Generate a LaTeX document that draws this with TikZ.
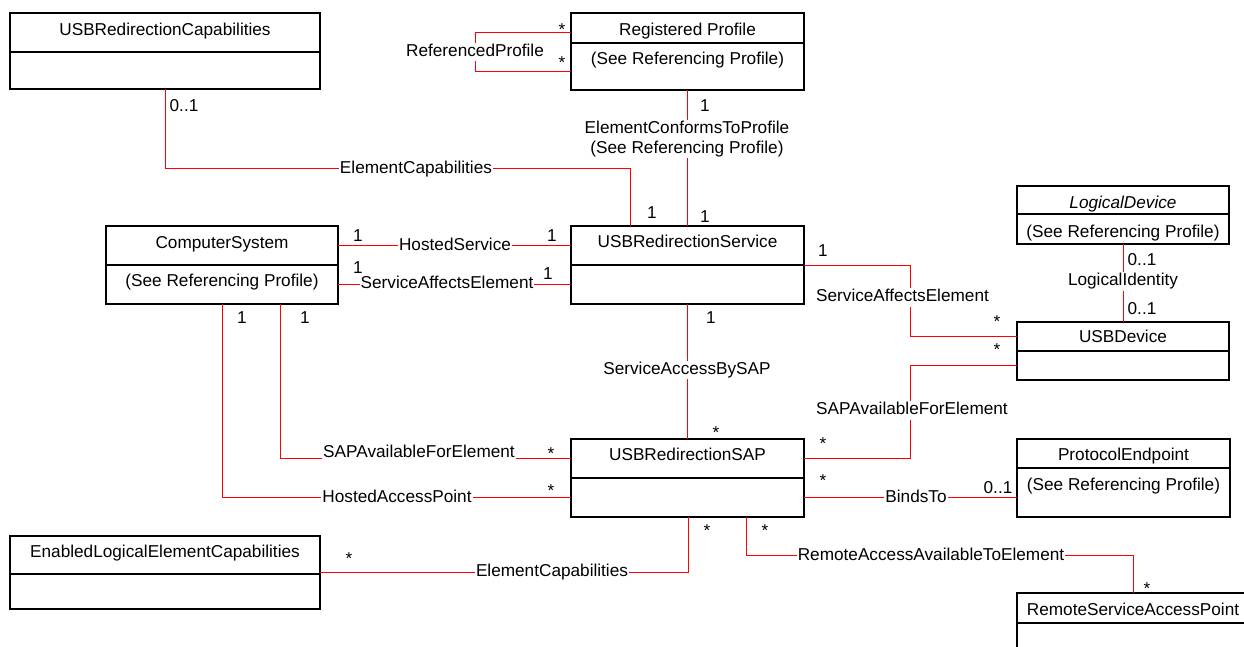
\documentclass[tikz,border=0pt]{standalone}
\usepackage{fontspec}
\setmainfont{Liberation Sans}
\usetikzlibrary{positioning}

\begin{document}
\begin{tikzpicture}[x=1pt,y=-1pt,font=\fontsize{17.2}{20.5}\selectfont,
  head/.style n args={3}{draw,line width=1.2pt,minimum width=#1,text height=#2,text depth=#3,inner sep=0pt,outer sep=0pt,anchor=north west},
  body/.style n args={3}{draw,line width=1.2pt,minimum width=#1,text height=#2,text depth=#3,inner sep=0pt,outer sep=0pt},
  assoc/.style={red,line width=0.9pt},
  lbl/.style={fill=white,inner sep=1pt,text height=12.5pt,text depth=3.6pt},
  mult/.style={inner sep=0pt,anchor=base}]
\useasboundingbox (0,0) rectangle (1244,646);
\clip (0,0) rectangle (1244,646);

\node[head={310pt}{22.5pt}{16.5pt}] (urc) at (10,13) {USBRedirectionCapabilities};
\node[body={310pt}{37pt}{0pt},below=0pt of urc] (urcB) {};
\node[head={233pt}{22pt}{8pt}] (rp) at (571,13) {Registered Profile};
\node[body={233pt}{21.5pt}{25.5pt},below=0pt of rp] (rpB) {(See Referencing Profile)};
\node[head={212pt}{22.3pt}{5.7pt}] (ld) at (1017,186) {\itshape LogicalDevice};
\node[body={212pt}{23pt}{7pt},below=0pt of ld] (ldB) {(See Referencing Profile)};
\node[head={212pt}{20.3pt}{8.7pt}] (usbd) at (1017,322) {USBDevice};
\node[body={212pt}{29pt}{0pt},below=0pt of usbd] (usbdB) {};
\node[head={232pt}{22.5pt}{16.5pt}] (cs) at (106,226) {ComputerSystem};
\node[body={232pt}{21pt}{18pt},below=0pt of cs] (csB) {(See Referencing Profile)};
\node[head={233pt}{21.3pt}{17.7pt}] (svc) at (571,226) {USBRedirectionService};
\node[body={233pt}{39pt}{0pt},below=0pt of svc] (svcB) {};
\node[head={233pt}{21.6pt}{17.4pt}] (sap) at (571,439) {USBRedirectionSAP};
\node[body={233pt}{39pt}{0pt},below=0pt of sap] (sapB) {};
\node[head={213pt}{21.6pt}{7.4pt}] (pe) at (1017,439) {ProtocolEndpoint};
\node[body={213pt}{22pt}{27pt},below=0pt of pe] (peB) {(See Referencing Profile)};
\node[head={232pt}{22.6pt}{7.4pt}] (rsap) at (1017,593) {RemoteServiceAccessPoint};
\node[body={232pt}{60pt}{0pt},below=0pt of rsap] (rsapB) {};
\node[head={310pt}{21.3pt}{16.7pt}] (elec) at (10,536) {EnabledLogicalElementCapabilities};
\node[body={310pt}{35pt}{0pt},below=0pt of elec] (elecB) {};

\draw[assoc] (urcB.south -| 165,0) -- ++(0,79) -| (svc.north -| 630,0);
\draw[assoc] (rp.west |- 0,32) -- ++(-96,0) |- (rpB.west |- 0,71);
\draw[assoc] (rpB.south -| 687,0) -- (svc.north -| 687,0);
\draw[assoc] (cs.east |- 0,245) -- (svc.west |- 0,245);
\draw[assoc] (csB.east |- 0,284) -- (svcB.west |- 0,284);
\draw[assoc] (svc.south east) -- ++(106,0) |- (usbd.west);
\draw[assoc] (ldB.south) -- (usbd.north);
\draw[assoc] (svcB.south -| 687,0) -- (sap.north -| 687,0);
\draw[assoc] (csB.south -| 280,0) |- (sap.west);
\draw[assoc] (csB.south -| 222,0) |- (sapB.west);
\draw[assoc] (sap.east) -- ++(106,0) |- (usbdB.west);
\draw[assoc] (sapB.east |- 0,497) -- (peB.west |- 0,497);
\draw[assoc] (sapB.south -| 688,0) |- (elec.east |- 0,572);
\draw[assoc] (sapB.south -| 746,0) -- ++(0,38) -| (rsap.north);

\node[lbl] (ecTop) at (416,169.5) {ElementCapabilities};
\node[lbl] (refP) at (475,52) {ReferencedProfile};
\node[fill=white,inner sep=1pt,align=center] (ectp) at (687,139) {ElementConformsToProfile\\(See Referencing Profile)};
\node[lbl] (hs) at (455,246.5) {HostedService};
\node[lbl] (saeL) at (447,284) {ServiceAffectsElement};
\node[lbl] (saeR) at (902.5,297.5) {ServiceAffectsElement};
\node[lbl] (lid) at (1123,281.5) {LogicalIdentity};
\node[lbl] (sabs) at (687,370) {ServiceAccessBySAP};
\node[lbl] (safeL) at (419,453) {SAPAvailableForElement};
\node[lbl] (hap) at (397,498.5) {HostedAccessPoint};
\node[lbl] (safeR) at (912,410.5) {SAPAvailableForElement};
\node[lbl] (bt) at (916,498) {BindsTo};
\node[lbl] (ecBot) at (552,572.5) {ElementCapabilities};
\node[lbl] (raate) at (931,556) {RemoteAccessAvailableToElement};

\node[mult] (m1) at (184,111) {0..1};
\node[mult] (m2) at (562,35) {*};
\node[mult] (m3) at (562,68) {*};
\node[mult] (m4) at (705,111) {1};
\node[mult] (m5) at (652,218) {1};
\node[mult] (m6) at (705,222) {1};
\node[mult] (m7) at (358,241) {1};
\node[mult] (m8) at (552,241) {1};
\node[mult] (m9) at (358,273) {1};
\node[mult] (m10) at (548,279) {1};
\node[mult] (m11) at (242,323) {1};
\node[mult] (m12) at (305,323) {1};
\node[mult] (m13) at (823,256) {1};
\node[mult] (m14) at (997,327) {*};
\node[mult] (m15) at (997,355) {*};
\node[mult] (m16) at (1142,265) {0..1};
\node[mult] (m17) at (1142,314) {0..1};
\node[mult] (m18) at (711,323) {1};
\node[mult] (m19) at (716,438) {*};
\node[mult] (m20) at (551,459) {*};
\node[mult] (m21) at (551,496) {*};
\node[mult] (m22) at (823,449) {*};
\node[mult] (m23) at (823,486) {*};
\node[mult] (m24) at (998,493) {0..1};
\node[mult] (m25) at (707,536) {*};
\node[mult] (m26) at (765,536) {*};
\node[mult] (m27) at (349,564) {*};
\node[mult] (m28) at (1147,594) {*};
\end{tikzpicture}
\end{document}
